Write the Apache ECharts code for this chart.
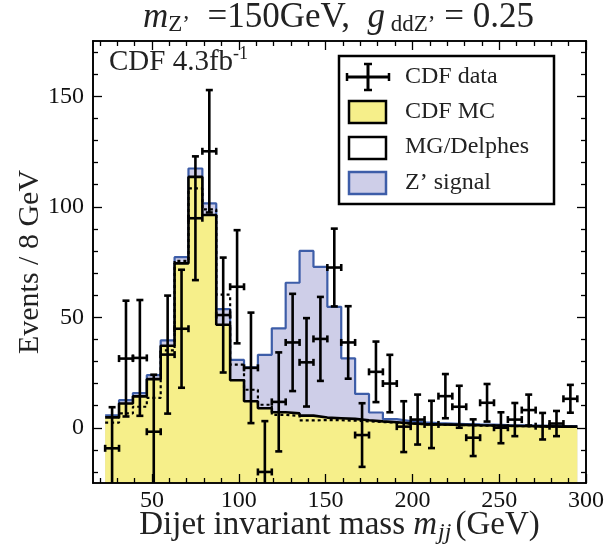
<!DOCTYPE html>
<html>
<head>
<meta charset="utf-8">
<script src="https://cdn.jsdelivr.net/npm/echarts@6/dist/echarts.min.js"></script>
<style>
html,body{margin:0;padding:0;background:#fff;}
#chart{width:605px;height:546px;}
</style>
</head>
<body>
<div id="chart"></div>
<script>
// ---- data ----
const binCenters = [27,35,43,51,59,67,75,83,91,99,107,115,123,131,139,147,155,163,171,179,187,195,203,211,219,227,235,243,251,259,267,275,283,291];
const binWidth = 8;
// MG/Delphes background (solid line, yellow fill below)
const mgDelphes = [4.7,11.0,14.2,22.0,37.1,74.4,113.5,96.3,46.6,21.5,12.0,8.8,7.0,6.5,5.5,4.6,4.3,4.0,3.4,2.9,2.5,2.0,1.7,1.5,1.4,1.3,1.1,1.0,0.9,0.8,0.7,0.6,0.5,0.5];
// CDF MC (dotted line)
const cdfMC = [2.3,6.5,9.5,13.5,35.0,75.5,108.3,98.8,60.2,28.6,17.2,10.4,5.8,5.4,3.3,3.5,3.4,3.2,2.9,2.6,2.3,1.9,1.6,1.4,1.3,1.2,1.0,0.9,0.8,0.7,0.6,0.5,0.4,0.4];
// Z' signal, stacked on MG/Delphes
const zSignal = [0.9,1.5,1.5,1.8,2.4,2.8,3.8,5.2,7.1,9.2,15.3,24.2,38.0,59.1,74.5,68.2,50.4,27.4,11.9,4.0,1.4,1.0,0.7,0.6,0.5,0.4,0.4,0.4,0.3,0.3,0.3,0.3,0.3,0.2];
// CDF data points and their errors
const cdfData = [-9.3,31.3,31.6,-1.8,33.1,44.8,94.8,125.1,51.0,63.8,27.1,-20.0,11.7,38.6,29.6,40.2,72.5,38.6,-3.3,25.3,20.0,0.5,3.7,1.5,14.3,9.5,-4.5,11.3,0.0,3.7,8.0,0.7,1.9,13.1];
const cdfErr  = [18.6,26.2,26.2,25.8,26.7,26.7,28.0,27.7,26.0,25.6,25.0,23.0,22.4,22.0,20.0,19.0,17.6,16.4,14.4,13.7,13.0,11.5,11.3,10.7,10.0,9.5,8.3,8.5,7.0,7.5,7.0,6.0,5.7,6.3];
// ticks
const xMajorTicks = [50,100,150,200,250,300];
const xMinorTicks = [20,30,40,60,70,80,90,110,120,130,140,160,170,180,190,210,220,230,240,260,270,280,290];
const yMajorTicks = [0,50,100,150];
const yMinorTicks = [-20,-10,10,20,30,40,60,70,80,90,110,120,130,140,160,170];
const xRange = [16, 300];
const yRange = [-25, 175];

// ---- helpers ----
const FONT = 'Liberation Serif';
function stepData(vals){
  const pts = binCenters.map((c,i)=>[c - binWidth/2, vals[i]]);
  const n = binCenters.length - 1;
  pts.push([binCenters[n] + binWidth/2, vals[n]]);
  return pts;
}
const stackTotal = mgDelphes.map((v,i)=>v + zSignal[i]);
const errData = binCenters.map((c,i)=>[c, cdfData[i], cdfErr[i]]);

const axisLineStyle = {color:'#000', width:1.6};
function xAx(pos, ticks, len, labels){
  return {
    type:'value', min:xRange[0], max:xRange[1], position:pos, z:10,
    axisLine:{show:true, onZero:false, lineStyle:axisLineStyle},
    axisTick:{show:true, inside:true, length:len, customValues:ticks, lineStyle:{color:'#000', width:1.3}},
    axisLabel: labels ? {show:true, customValues:ticks, fontFamily:FONT, fontSize:24, color:'#111', margin:6} : {show:false},
    splitLine:{show:false}
  };
}
function yAx(pos, ticks, len, labels){
  return {
    type:'value', min:yRange[0], max:yRange[1], position:pos, z:10,
    axisLine:{show:true, onZero:false, lineStyle:axisLineStyle},
    axisTick:{show:true, inside:true, length:len, customValues:ticks, lineStyle:{color:'#000', width:1.3}},
    axisLabel: labels ? {show:true, customValues:ticks, fontFamily:FONT, fontSize:24, color:'#111', margin:9} : {show:false},
    splitLine:{show:false}
  };
}

const chart = echarts.init(document.getElementById('chart'), null, {renderer:'canvas'});

const xAxes = [xAx('bottom', xMajorTicks, 9, true), xAx('bottom', xMinorTicks, 5, false), xAx('top', xMajorTicks, 9, false), xAx('top', xMinorTicks, 5, false)];
xAxes[0].name = '{r|Dijet invariant mass }{i|m}{s|jj}{r|(GeV)}';
xAxes[0].nameLocation = 'middle';
xAxes[0].nameGap = 22;
xAxes[0].nameMoveOverlap = false;
xAxes[0].nameTextStyle = {
  rich:{
    r:{fontFamily:FONT, fontSize:33, color:'#222', lineHeight:40, verticalAlign:'middle'},
    i:{fontFamily:FONT, fontStyle:'italic', fontSize:33, color:'#222', lineHeight:40, verticalAlign:'middle'},
    s:{fontFamily:FONT, fontStyle:'italic', fontSize:24, color:'#222', lineHeight:24, verticalAlign:'bottom', padding:[0,4,0,1]}
  }
};
const yAxes = [yAx('left', yMajorTicks, 9, true), yAx('left', yMinorTicks, 5, false), yAx('right', yMajorTicks, 9, false), yAx('right', yMinorTicks, 5, false)];
yAxes[0].name = 'Events / 8 GeV';
yAxes[0].nameLocation = 'middle';
yAxes[0].nameGap = 48;
yAxes[0].nameRotate = 90;
yAxes[0].nameMoveOverlap = false;
yAxes[0].nameTextStyle = {fontFamily:FONT, fontSize:30, color:'#222'};

const option = {
  backgroundColor:'#fff',
  animation:false,
  grid:{left:93, right:19, top:41, bottom:63, outerBoundsMode:'none'},
  xAxis: xAxes,
  yAxis: yAxes,
  series:[
    {
      name:'Z\u2019 signal', type:'line', step:'end', symbol:'none', data:stepData(stackTotal), z:2,
      lineStyle:{color:'#3d5da8', width:2.2},
      areaStyle:{color:'#cecee8', opacity:1, origin:'start'}
    },
    {
      name:'MG/Delphes', type:'line', step:'end', symbol:'none', data:stepData(mgDelphes), z:3,
      lineStyle:{color:'#000', width:2.6},
      areaStyle:{color:'#f6ef8a', opacity:1, origin:'start'}
    },
    {
      name:'CDF MC', type:'line', step:'end', symbol:'none', data:stepData(cdfMC), z:4,
      lineStyle:{color:'#000', width:2.2, type:[3,3]}
    },
    {
      name:'CDF data', type:'custom', data:errData, z:5, clip:true,
      renderItem:function(params, api){
        const x = api.value(0), y = api.value(1), e = api.value(2);
        const pt = api.coord([x, y + e]);
        const pb = api.coord([x, y - e]);
        const pl = api.coord([x - binWidth/2, y]);
        const pr = api.coord([x + binWidth/2, y]);
        const c = 3.5;
        const st = {stroke:'#000', lineWidth:2.6};
        const ln = (x1,y1,x2,y2)=>({type:'line', shape:{x1:x1,y1:y1,x2:x2,y2:y2}, style:st});
        return {type:'group', children:[
          ln(pt[0], pt[1], pb[0], pb[1]),
          ln(pl[0], pl[1], pr[0], pr[1]),
          ln(pt[0]-c, pt[1], pt[0]+c, pt[1]),
          ln(pb[0]-c, pb[1], pb[0]+c, pb[1]),
          ln(pl[0], pl[1]-c, pl[0], pl[1]+c),
          ln(pr[0], pr[1]-c, pr[0], pr[1]+c)
        ]};
      }
    }
  ],
  graphic:[
    {
      type:'text', left:143, top:0, z:100,
      style:{
        text:'{i|m}{s|Z\u2019}{r|  =150GeV,  }{i|g}{s| ddZ\u2019}{r| = 0.25}',
        rich:{
          r:{fontFamily:FONT, fontSize:35, fill:'#222', lineHeight:38, verticalAlign:'middle'},
          i:{fontFamily:FONT, fontStyle:'italic', fontSize:35, fill:'#222', lineHeight:38, verticalAlign:'middle'},
          s:{fontFamily:FONT, fontSize:23, fill:'#222', lineHeight:28, verticalAlign:'bottom'}
        }
      }
    },
    {
      type:'text', left:109, top:45, z:100,
      style:{
        text:'{r|CDF 4.3fb}{p|-1}',
        rich:{
          r:{fontFamily:FONT, fontSize:29, fill:'#222', lineHeight:34, verticalAlign:'middle'},
          p:{fontFamily:FONT, fontSize:18, fill:'#222', lineHeight:22, verticalAlign:'top'}
        }
      }
    },
    {
      type:'group', z:100, children:[
        {type:'rect', shape:{x:339, y:56, width:215, height:148}, style:{fill:'#fff', stroke:'#000', lineWidth:2.5}},
        {type:'line', shape:{x1:347, y1:77, x2:389, y2:77}, style:{stroke:'#000', lineWidth:3}},
        {type:'line', shape:{x1:368, y1:64, x2:368, y2:90}, style:{stroke:'#000', lineWidth:3}},
        {type:'line', shape:{x1:364, y1:64, x2:372, y2:64}, style:{stroke:'#000', lineWidth:2.5}},
        {type:'line', shape:{x1:364, y1:90, x2:372, y2:90}, style:{stroke:'#000', lineWidth:2.5}},
        {type:'line', shape:{x1:347, y1:73, x2:347, y2:81}, style:{stroke:'#000', lineWidth:2.5}},
        {type:'line', shape:{x1:389, y1:73, x2:389, y2:81}, style:{stroke:'#000', lineWidth:2.5}},
        {type:'rect', shape:{x:349, y:101, width:37, height:22}, style:{fill:'#f6ef8a', stroke:'#000', lineWidth:2.5}},
        {type:'rect', shape:{x:349, y:137, width:37, height:22}, style:{fill:'#fff', stroke:'#000', lineWidth:2.5}},
        {type:'rect', shape:{x:349, y:172, width:37, height:22}, style:{fill:'#cecee8', stroke:'#3d5da8', lineWidth:2.5}},
        {type:'text', x:405, y:77, style:{text:'CDF data', fontFamily:FONT, fontSize:24, fill:'#222', verticalAlign:'middle'}},
        {type:'text', x:405, y:112, style:{text:'CDF MC', fontFamily:FONT, fontSize:24, fill:'#222', verticalAlign:'middle'}},
        {type:'text', x:405, y:147, style:{text:'MG/Delphes', fontFamily:FONT, fontSize:24, fill:'#222', verticalAlign:'middle'}},
        {type:'text', x:405, y:183, style:{text:'Z\u2019 signal', fontFamily:FONT, fontSize:24, fill:'#222', verticalAlign:'middle'}}
      ]
    }
  ]
};
chart.setOption(option);
</script>
</body>
</html>
